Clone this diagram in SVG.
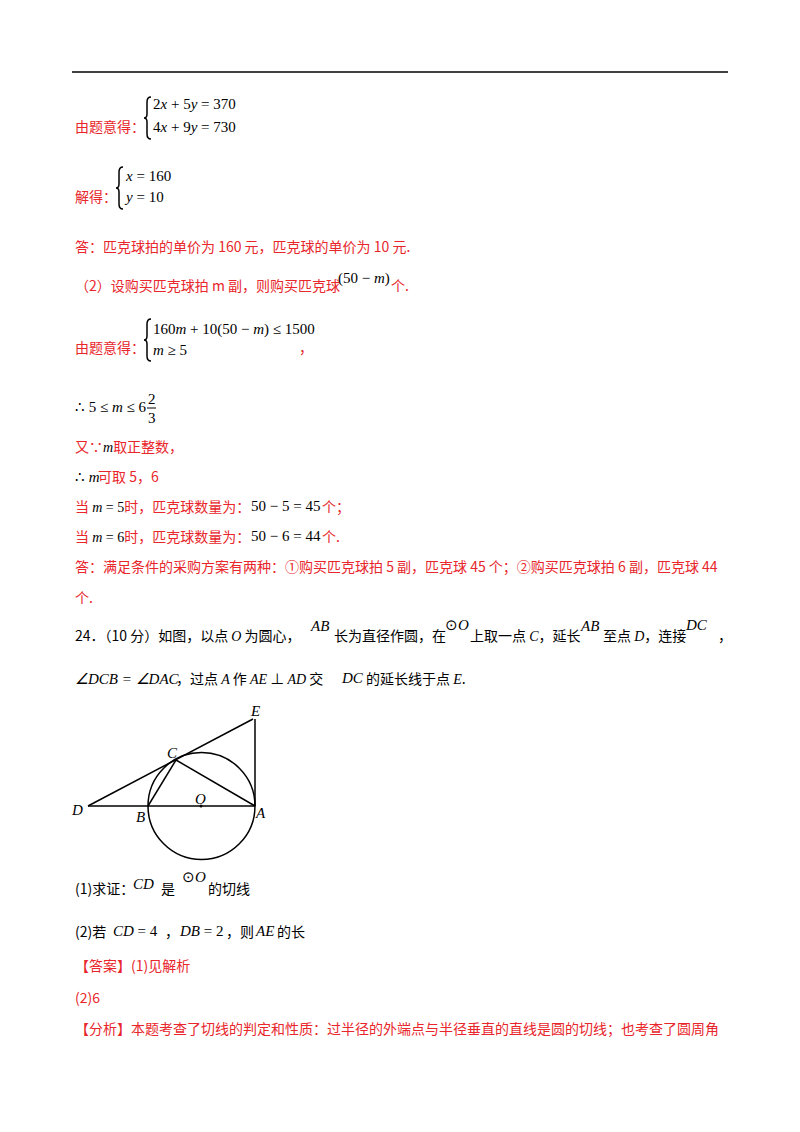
<svg xmlns="http://www.w3.org/2000/svg" width="800" height="1132" viewBox="0 0 800 1132">
<style>
text{font-family:"Noto Sans CJK SC","Noto Serif CJK SC",serif;font-size:14px;fill:#000}
.r{fill:#e8262b}
.m{font-family:"Liberation Serif",serif;font-size:15px}
.i{font-style:italic}
.g{stroke:#000;stroke-width:1.5;fill:none}
</style>
<rect width="800" height="1132" fill="#fff"/>
<line x1="72" y1="72" x2="728" y2="72" stroke="#000" stroke-width="1.5"/>
<text x="75" y="132" class="r">由题意得：</text>
<path d="M151,97 q-4,0 -4,5 v12 q0,4 -3,4 q3,0 3,4 v12 q0,5 4,5" class="g" stroke-width="1"/>
<text x="153" y="109" class="m"><tspan>2</tspan><tspan class="i">x</tspan> + 5<tspan class="i">y</tspan> = 370</text>
<text x="153" y="132" class="m"><tspan>4</tspan><tspan class="i">x</tspan> + 9<tspan class="i">y</tspan> = 730</text>
<text x="75" y="202" class="r">解得：</text>
<path d="M123,167 q-4,0 -4,5 v12 q0,4 -3,4 q3,0 3,4 v12 q0,5 4,5" class="g" stroke-width="1"/>
<text x="126" y="181" class="m"><tspan class="i">x</tspan> = 160</text>
<text x="126" y="202" class="m"><tspan class="i">y</tspan> = 10</text>
<text x="75" y="252" class="r">答：匹克球拍的单价为 160 元，匹克球的单价为 10 元.</text>
<text x="75" y="291" class="r">（2）设购买匹克球拍 m 副，则购买匹克球</text>
<text x="338" y="283" class="m">(50 − <tspan class="i">m</tspan>)</text>
<text x="391" y="291" class="r">个.</text>
<text x="75" y="353" class="r">由题意得：</text>
<path d="M151,319 q-4,0 -4,5 v12 q0,4 -3,4 q3,0 3,4 v12 q0,5 4,5" class="g" stroke-width="1"/>
<text x="153" y="334" class="m">160<tspan class="i">m</tspan> + 10(50 − <tspan class="i">m</tspan>) ≤ 1500</text>
<text x="153" y="355" class="m"><tspan class="i">m</tspan> ≥ 5</text>
<text x="299" y="353" class="r">，</text>
<text x="75" y="412" class="m">∴ 5 ≤ <tspan class="i">m</tspan> ≤ 6</text>
<text x="148" y="404" class="m" font-size="13">2</text>
<line x1="147" y1="408" x2="156" y2="408" stroke="#000"/>
<text x="148" y="423" class="m" font-size="13">3</text>
<text x="75" y="452" class="r">又∵<tspan font-family="Liberation Serif" font-style="italic" fill="#000">m</tspan>取正整数，</text>
<text x="75" y="482" class="m">∴ <tspan class="i">m</tspan></text>
<text x="98" y="482" class="r">可取 5，6</text>
<text x="75" y="512" class="r">当 <tspan font-family="Liberation Serif" fill="#000"><tspan font-style="italic">m</tspan> = 5</tspan>时，匹克球数量为：</text>
<text x="251" y="511" class="m" font-size="14">50 − 5 = 45</text>
<text x="322" y="512" class="r">个；</text>
<text x="75" y="542" class="r">当 <tspan font-family="Liberation Serif" fill="#000"><tspan font-style="italic">m</tspan> = 6</tspan>时，匹克球数量为：</text>
<text x="251" y="541" class="m" font-size="14">50 − 6 = 44</text>
<text x="322" y="542" class="r">个.</text>
<text x="75" y="572" class="r">答：满足条件的采购方案有两种：①购买匹克球拍 5 副，匹克球 45 个；②购买匹克球拍 6 副，匹克球 44</text>
<text x="75" y="603" class="r">个.</text>
<text x="75" y="641">24．（10 分）如图，以点 <tspan font-family="Liberation Serif" font-style="italic">O</tspan> 为圆心，</text>
<text x="311" y="631" class="m i">AB</text>
<text x="334" y="641">长为直径作圆，在</text>
<text x="445" y="630" class="m"><tspan>⊙</tspan><tspan class="i">O</tspan></text>
<text x="470" y="641">上取一点 <tspan font-family="Liberation Serif" font-style="italic">C</tspan>，延长</text>
<text x="581" y="631" class="m i">AB</text>
<text x="603" y="641">至点 <tspan font-family="Liberation Serif" font-style="italic">D</tspan>，连接</text>
<text x="686" y="630" class="m i">DC</text>
<text x="718" y="641">，</text>
<text x="75" y="684" class="m i">∠DCB = ∠DAC</text>
<text x="176" y="684">，过点 <tspan font-family="Liberation Serif" font-style="italic">A</tspan> 作 <tspan font-family="Liberation Serif" font-style="italic">AE</tspan> ⊥ <tspan font-family="Liberation Serif" font-style="italic">AD</tspan> 交</text>
<text x="342" y="683" class="m i">DC</text>
<text x="366" y="684">的延长线于点 <tspan font-family="Liberation Serif" font-style="italic">E</tspan>.</text>
<g id="figure">
<circle cx="201.5" cy="806" r="53.5" class="g" stroke-width="1.3"/>
<line x1="88" y1="806" x2="255" y2="806" class="g" stroke-width="1.3"/>
<line x1="88" y1="806" x2="253" y2="719" class="g" stroke-width="1.3"/>
<line x1="255" y1="719" x2="255" y2="806" class="g" stroke-width="1.3"/>
<line x1="148" y1="806" x2="176" y2="760" class="g" stroke-width="1.3"/>
<line x1="176" y1="760" x2="255" y2="806" class="g" stroke-width="1.3"/>
<circle cx="201" cy="806" r="1.5" fill="#000"/>
<text x="251" y="716" class="m i">E</text>
<text x="167" y="758" class="m i">C</text>
<text x="72" y="815" class="m i">D</text>
<text x="136" y="822" class="m i">B</text>
<text x="195" y="804" class="m i">O</text>
<text x="256" y="818" class="m i">A</text>
</g>
<text x="75" y="894">(1)求证：</text>
<text x="133" y="889" class="m i">CD</text>
<text x="161" y="894">是</text>
<text x="182" y="882" class="m"><tspan>⊙</tspan><tspan class="i">O</tspan></text>
<text x="208" y="894">的切线</text>
<text x="75" y="937">(2)若</text>
<text x="113" y="936" class="m"><tspan class="i">CD</tspan> = 4</text>
<text x="165" y="937">，</text>
<text x="180" y="936" class="m"><tspan class="i">DB</tspan> = 2</text>
<text x="226" y="937">，则</text>
<text x="256" y="936" class="m i">AE</text>
<text x="277" y="937">的长</text>
<text x="75" y="971" class="r">【答案】(1)见解析</text>
<text x="75" y="1003" class="r">(2)6</text>
<text x="75" y="1034" class="r">【分析】本题考查了切线的判定和性质：过半径的外端点与半径垂直的直线是圆的切线；也考查了圆周角</text>
</svg>
